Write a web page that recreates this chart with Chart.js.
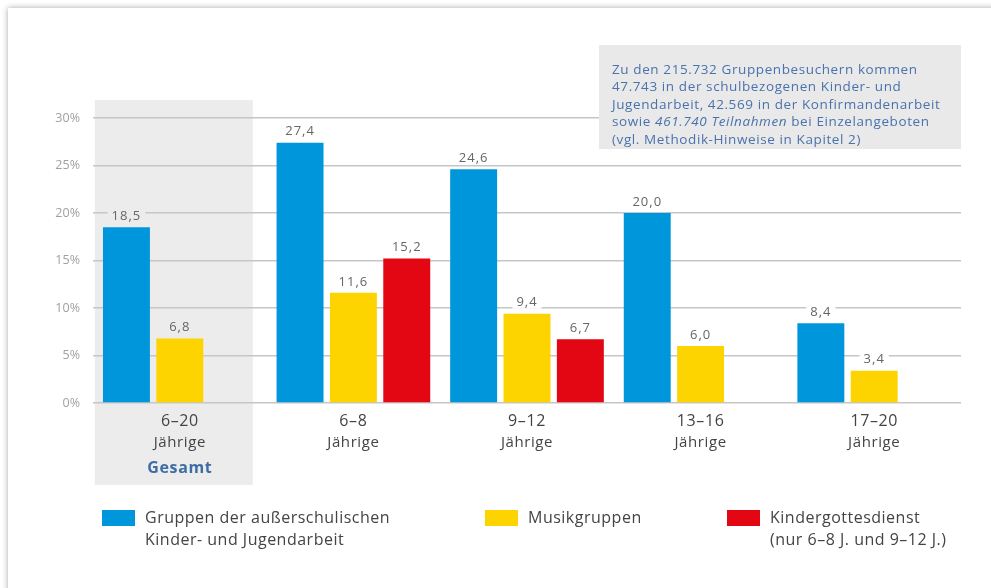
<!DOCTYPE html>
<html>
<head>
<meta charset="utf-8">
<script src="https://cdn.jsdelivr.net/npm/chart.js@4"></script>
<style>
  html, body { margin: 0; padding: 0; background: #fff; overflow: hidden; }
  #card { position: absolute; left: 8px; top: 8px; width: 1000px; height: 600px; background: #fff;
          box-shadow: 0 0 6px rgba(0,0,0,0.35); }
  #wrap { position: absolute; left: 0; top: 0; width: 991px; height: 588px; }
</style>
</head>
<body>
<div id="card"></div>
<div id="wrap"><canvas id="graphCanvas" width="991" height="588"></canvas></div>
<script>
// Altersgruppen (erste Zeile der Achsenbeschriftung)
const ageGroups = ['6–20', '6–8', '9–12', '13–16', '17–20'];
const ageSub = ['Jährige', 'Jährige', 'Jährige', 'Jährige', 'Jährige'];
// Werte in %
const gruppen = [18.5, 27.4, 24.6, 20.0, 8.4];
const musik = [6.8, 11.6, 9.4, 6.0, 3.4];
const kigo = [null, 15.2, 6.7, null, null];
const legendLabels = [
  ['Gruppen der außerschulischen', 'Kinder- und Jugendarbeit'],
  ['Musikgruppen'],
  ['Kindergottesdienst', '(nur 6–8 J. und 9–12 J.)']
];
const noteLines = [
  [['Zu den 215.732 Gruppenbesuchern kommen', false]],
  [['47.743 in der schulbezogenen Kinder- und', false]],
  [['Jugendarbeit, 42.569 in der Konfirmandenarbeit', false]],
  [['sowie ', false], ['461.740 Teilnahmen', true], [' bei Einzelangeboten', false]],
  [['(vgl. Methodik-Hinweise in Kapitel 2)', false]]
];

const FONT = '"Open Sans", sans-serif';
const colors = ['#0096dc', '#fdd400', '#e30613'];

function fmt(v) {
  return v.toFixed(1).replace('.', ',');
}

// grauer Hintergrund fuer "Gesamt"
const bandPlugin = {
  id: 'band',
  beforeDraw(chart) {
    const ctx = chart.ctx;
    const x0 = chart.scales.x.getPixelForValue(0);
    ctx.save();
    ctx.fillStyle = '#ececec';
    ctx.fillRect(x0 - 85, 100, 158, 385);
    ctx.restore();
  }
};

const extrasPlugin = {
  id: 'extras',
  afterDatasetsDraw(chart) {
    const ctx = chart.ctx;
    ctx.save();
    // Werte ueber den Balken
    ctx.font = '13px ' + FONT;
    ctx.letterSpacing = '1px';
    ctx.textAlign = 'center';
    ctx.textBaseline = 'middle';
    chart.data.datasets.forEach((ds, i) => {
      const meta = chart.getDatasetMeta(i);
      meta.data.forEach((bar, j) => {
        const v = ds.data[j];
        if (v == null) return;
        const txt = fmt(v);
        const w = ctx.measureText(txt).width + 8;
        ctx.fillStyle = j === 0 ? '#ececec' : '#ffffff';
        ctx.fillRect(bar.x - w / 2, bar.y - 19, w, 14);
        ctx.fillStyle = '#666';
        ctx.fillText(txt, bar.x, bar.y - 11);
      });
    });

    // Achsenbeschriftung
    const xs = chart.scales.x;
    ctx.letterSpacing = '0.6px';
    ageGroups.forEach((g, i) => {
      const cx = xs.getPixelForValue(i);
      ctx.fillStyle = '#444';
      ctx.font = '16px ' + FONT;
      ctx.fillText(g, cx, 421);
      ctx.font = '15px ' + FONT;
      ctx.fillText(ageSub[i], cx, 443);
      if (i === 0) {
        ctx.font = 'bold 16px ' + FONT;
        ctx.fillStyle = '#3d6da3';
        ctx.fillText('Gesamt', cx, 468);
      }
    });

    // Hinweisbox
    const right = chart.chartArea.right;
    ctx.fillStyle = '#e9e9e9';
    ctx.fillRect(right - 362, 45, 362, 104);
    ctx.textAlign = 'left';
    ctx.fillStyle = '#4a72ad';
    ctx.letterSpacing = '0.6px';
    noteLines.forEach((parts, k) => {
      let x = right - 349;
      const y = 70 + k * 17.5;
      parts.forEach(([t, it]) => {
        ctx.font = (it ? 'italic ' : '') + '13.5px ' + FONT;
        ctx.fillText(t, x, y);
        x += ctx.measureText(t).width;
      });
    });

    // Legende
    const legX = [102, 485, 727];
    ctx.font = '16px ' + FONT;
    ctx.letterSpacing = '0.5px';
    legendLabels.forEach((lines, i) => {
      ctx.fillStyle = colors[i];
      ctx.fillRect(legX[i], 510, 33, 16);
      ctx.fillStyle = '#444';
      lines.forEach((l, k) => {
        ctx.fillText(l, legX[i] + 43, 518 + k * 22);
      });
    });
    ctx.restore();
  }
};

const ctx = document.getElementById('graphCanvas');
const myChart = new Chart(ctx, {
  type: 'bar',
  data: {
    labels: ageGroups,
    datasets: [
      { label: legendLabels[0].join(' '), data: gruppen, backgroundColor: colors[0] },
      { label: legendLabels[1].join(' '), data: musik, backgroundColor: colors[1] },
      { label: legendLabels[2].join(' '), data: kigo, backgroundColor: colors[2] }
    ]
  },
  options: {
    responsive: false,
    animation: false,
    devicePixelRatio: 1,
    layout: { autoPadding: false, padding: { left: 0, top: 118, right: 30, bottom: 185 } },
    datasets: { bar: { categoryPercentage: 0.922, barPercentage: 0.88 } },
    plugins: { legend: { display: false }, tooltip: { enabled: false } },
    scales: {
      x: { display: false },
      y: {
        min: 0,
        max: 30,
        ticks: {
          stepSize: 5,
          padding: 13,
          color: '#a0a0a0',
          font: { family: FONT, size: 12.5 },
          callback: v => v + '%'
        },
        grid: { color: '#c6c6c6', lineWidth: 1.5, drawTicks: false },
        border: { display: false },
        afterFit: s => { s.width = 93; }
      }
    }
  },
  plugins: [bandPlugin, extrasPlugin]
});
</script>
</body>
</html>
